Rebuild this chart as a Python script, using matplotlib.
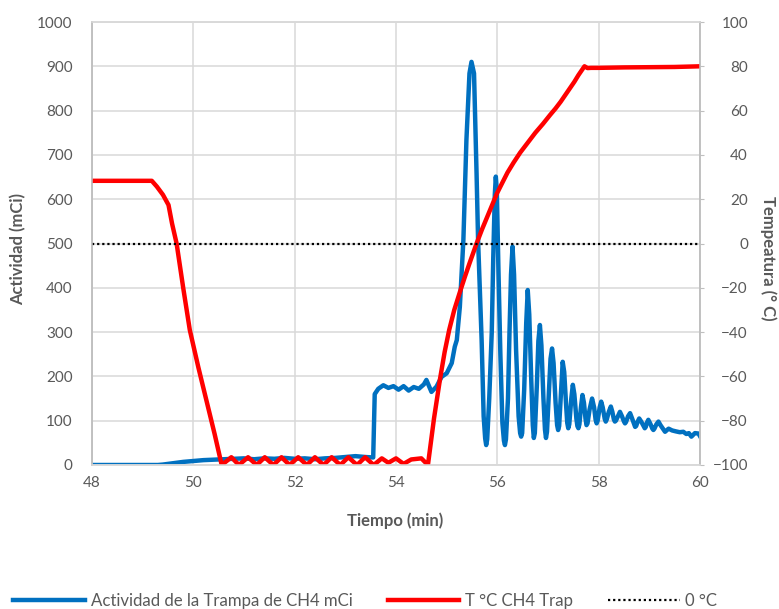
import numpy as np
import matplotlib
matplotlib.use("Agg")
from matplotlib import pyplot as plt
from matplotlib.lines import Line2D

plt.rcParams['font.family'] = ['Lato', 'DejaVu Sans']

# trap activity (mCi) vs time (min)
timeAct = [48.0, 49.3, 49.4, 49.6, 49.8, 50.0, 50.2, 50.4, 50.6, 50.8,
           51.0, 51.2, 51.4, 51.6, 51.8, 52.0, 52.2, 52.4, 52.6, 52.8,
           53.0, 53.2, 53.4, 53.55, 53.58, 53.65, 53.75, 53.85, 53.95, 54.05,
           54.15, 54.25, 54.35, 54.45, 54.55, 54.6, 54.7, 54.8, 54.9, 55.0,
           55.1, 55.16, 55.2, 55.26, 55.33, 55.39, 55.45, 55.49, 55.54, 55.59,
           55.62, 55.69, 55.73, 55.76, 55.78, 55.8, 55.84, 55.89, 55.92, 55.95,
           55.97, 55.99, 56.02, 56.06, 56.1, 56.13, 56.15, 56.17, 56.21, 56.24,
           56.27, 56.3, 56.33, 56.37, 56.42, 56.45, 56.47, 56.49, 56.53, 56.57,
           56.6, 56.63, 56.67, 56.7, 56.72, 56.74, 56.78, 56.81, 56.84, 56.87,
           56.91, 56.94, 56.96, 56.98, 57.02, 57.05, 57.08, 57.11, 57.15, 57.18,
           57.2, 57.22, 57.26, 57.29, 57.32, 57.36, 57.38, 57.4, 57.42, 57.46,
           57.49, 57.52, 57.56, 57.58, 57.6, 57.62, 57.65, 57.68, 57.71, 57.74,
           57.76, 57.78, 57.82, 57.87, 57.91, 57.94, 57.96, 57.98, 58.02, 58.05,
           58.08, 58.12, 58.14, 58.16, 58.2, 58.24, 58.27, 58.3, 58.32, 58.34,
           58.38, 58.42, 58.46, 58.5, 58.52, 58.54, 58.58, 58.62, 58.66, 58.7,
           58.72, 58.74, 58.77, 58.8, 58.84, 58.89, 58.91, 58.93, 58.95, 58.98,
           59.02, 59.06, 59.08, 59.1, 59.14, 59.18, 59.22, 59.28, 59.31, 59.34,
           59.38, 59.45, 59.52, 59.6, 59.67, 59.73, 59.78, 59.83, 59.9, 59.97,
           60.0]
actividad = [0, 0, 1, 4, 7, 9, 11, 12, 13, 14,
             15, 13, 15, 14, 16, 14, 15, 13, 15, 16,
             18, 20, 18, 17, 160, 172, 180, 174, 178, 170,
             178, 168, 176, 172, 182, 192, 165, 177, 199, 207,
             230, 267, 282, 357, 508, 734, 884, 910, 884, 658,
             508, 282, 110, 60, 45, 58, 150, 300, 470, 610,
             651, 620, 450, 250, 95, 55, 45, 58, 150, 300,
             430, 493, 430, 260, 110, 72, 64, 72, 170, 320,
             395, 340, 190, 90, 61, 72, 180, 280, 316, 270,
             150, 80, 61, 75, 170, 240, 263, 230, 140, 90,
             79, 88, 170, 233, 210, 130, 95, 83, 92, 150,
             181, 160, 105, 88, 83, 92, 130, 158, 140, 105,
             90, 94, 125, 150, 130, 102, 94, 100, 130, 143,
             130, 104, 98, 103, 120, 132, 120, 103, 98, 100,
             110, 120, 110, 98, 94, 97, 110, 117, 105, 92,
             86, 88, 98, 105, 98, 87, 83, 86, 95, 102,
             93, 82, 79, 82, 92, 98, 90, 80, 75, 78,
             82, 78, 76, 74, 75, 70, 72, 64, 72, 71,
             65]

# trap temperature (deg C) vs time (min)
timeTemp = [48.0, 49.18, 49.28, 49.4, 49.51, 49.58, 49.67, 49.8, 49.93, 50.1,
            50.26, 50.42, 50.56, 50.75, 50.9, 51.08, 51.25, 51.41, 51.58, 51.74,
            51.9, 52.07, 52.24, 52.4, 52.57, 52.73, 52.9, 53.06, 53.23, 53.39,
            53.56, 53.72, 53.85, 54.0, 54.15, 54.3, 54.5, 54.63, 54.75, 54.87,
            54.96, 55.05, 55.15, 55.26, 55.36, 55.45, 55.59, 55.7, 55.8, 55.9,
            55.99, 56.1, 56.2, 56.32, 56.45, 56.6, 56.75, 56.9, 57.04, 57.15,
            57.25, 57.34, 57.43, 57.52, 57.6, 57.66, 57.72, 57.78, 57.85, 58.0,
            58.5, 59.0, 59.5, 60.0]
temperatura = [28.3, 28.3, 25.7, 22, 17.4, 9, 0, -20, -39, -56,
               -71, -86, -100, -96.5, -100, -96.5, -100, -96.5, -100, -96.5,
               -100, -96.5, -100, -96.5, -100, -96.5, -100, -96.5, -100, -96.5,
               -100, -97, -99, -97, -99.5, -97.5, -97, -100, -79, -61,
               -49, -39, -30, -22, -15, -9, 0, 6.5, 12, 17.5,
               22.5, 27.5, 32, 36.5, 41, 45.5, 50, 54, 58, 61,
               64, 67, 70, 73, 76, 78, 80, 79.2, 79.3, 79.3,
               79.5, 79.6, 79.7, 80]

# 0 deg C reference line
timeZero = [48, 60]
tempZero = [0, 0]

blue = '#0070C0'
red = '#FF0000'
grey = '#595959'

fig = plt.figure(figsize=(7.79, 6.09), dpi=100)
ax = fig.add_axes([92/779, 1 - 465/609, 608/779, 443/609])
ax2 = ax.twinx()

ax.plot(timeAct, actividad, color=blue, lw=3.2, solid_joinstyle='round')
ax2.plot(timeTemp, temperatura, color=red, lw=3.2, solid_joinstyle='round')
ax2.plot(timeZero, tempZero, color='black', lw=1.6, linestyle=(0, (1, 1.3)))

ax.set_xlim(48, 60)
ax.set_ylim(0, 1000)
ax2.set_ylim(-100, 100)
ax.set_xticks(np.arange(48, 61, 2))
ax.set_yticks(np.arange(0, 1001, 100))
ax2.set_yticks(np.arange(-100, 101, 20))

ax.grid(True, color='#D9D9D9', lw=1.1)
ax.set_axisbelow(True)

for a in (ax, ax2):
    for s in a.spines.values():
        s.set_color('#D9D9D9')
        s.set_linewidth(1.1)
    a.spines['left'].set_color('#BFBFBF')
    a.spines['right'].set_color('#BFBFBF')

ax.tick_params(axis='y', length=0, pad=14, labelsize=11, labelcolor=grey)
ax.tick_params(axis='x', length=0, pad=8, labelsize=11, labelcolor=grey)
ax2.tick_params(axis='y', length=3, color='#BFBFBF', pad=31.5,
                labelsize=11, labelcolor=grey)
for lbl in ax2.get_yticklabels():
    lbl.set_horizontalalignment('right')

ax.set_xlabel('Tiempo (min)', fontsize=12, fontweight='bold', color=grey)
ax.xaxis.set_label_coords(0.498, -0.106)
ax.set_ylabel('Actividad (mCi)', fontsize=12, fontweight='bold', color=grey,
              va='center', ha='center')
ax.yaxis.set_label_coords(-0.122, 0.4865)
ax2.set_ylabel('Tempeatura (° C)', fontsize=12, fontweight='bold', color=grey,
               rotation=270, va='center', ha='center')
ax2.yaxis.set_label_coords(1.112, 0.467)

handles = [Line2D([], [], color=blue, lw=3.2),
           Line2D([], [], color=red, lw=3.2),
           Line2D([], [], color='black', lw=1.6, linestyle=(0, (1, 1.3)))]
labels = ['Actividad de la Trampa de CH4 mCi', 'T °C CH4 Trap', '0 °C']
fig.legend(handles, labels, loc='center', bbox_to_anchor=(0.469, 0.013),
           ncol=3, frameon=False, fontsize=12.1, labelcolor=grey,
           handlelength=4.25, handletextpad=0.35, columnspacing=2.1)

fig.savefig('out.png', dpi=100)
